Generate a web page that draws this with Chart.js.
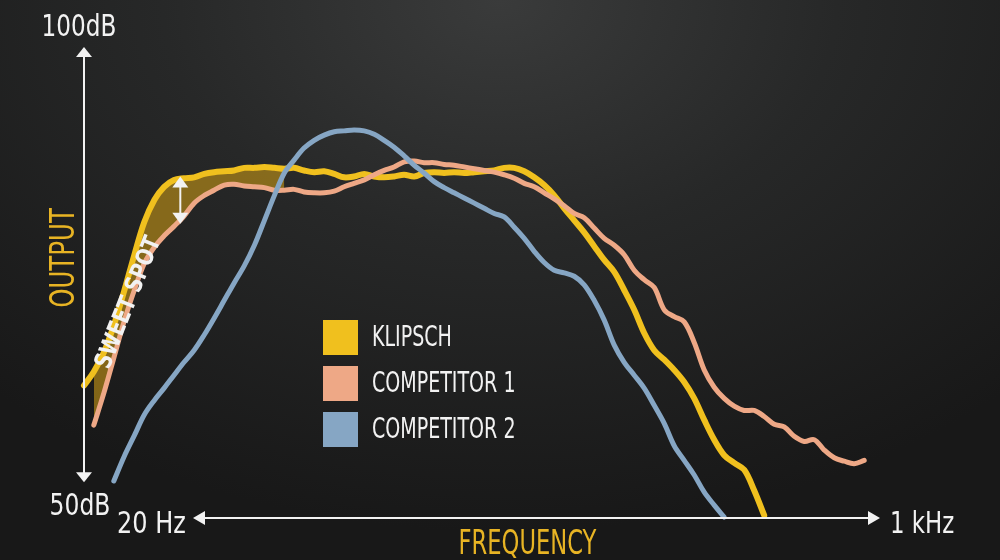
<!DOCTYPE html>
<html>
<head>
<meta charset="utf-8">
<title>Klipsch frequency response</title>
<script src="https://cdn.jsdelivr.net/npm/chart.js@4.4.1/dist/chart.umd.min.js"></script>
<style>
  html, body { margin: 0; padding: 0; }
  body {
    width: 1000px; height: 560px; overflow: hidden;
    background: radial-gradient(ellipse 75% 95% at 50% 0%, #3a3b3b 0%, #272828 45%, #181818 100%);
  }
  #wrap { position: relative; width: 1000px; height: 560px; }
</style>
</head>
<body>
<div id="wrap"><canvas id="myChart" width="1000" height="560"></canvas></div>
<script>
// frequency (Hz, log axis) shared by all three curves
const freqHz = [
  20.0, 21.0, 22.1, 23.2, 24.4, 25.7, 27.0, 28.4, 29.8, 31.3,
  32.9, 34.6, 36.4, 38.2, 40.2, 42.2, 44.4, 46.7, 49.1, 51.6,
  54.2, 56.9, 59.8, 62.9, 66.1, 69.5, 73.0, 76.7, 80.7, 84.8,
  89.1, 93.6, 98.4, 103.5, 108.7, 114.3, 120.1, 126.2, 132.7, 139.5,
  146.6, 154.1, 161.9, 170.2, 178.9, 188.0, 197.6, 207.7, 218.3, 229.4,
  241.1, 253.4, 266.4, 280.0, 294.2, 309.3, 325.0, 341.6, 359.1, 377.4,
  396.6, 416.9, 438.2, 460.5, 484.0, 508.7, 534.7, 562.0, 590.7, 620.8,
  652.5, 685.8, 720.8, 757.6, 796.3, 836.9, 879.6, 924.5, 971.7
];

// output in dB
const klipsch = [
  61.0, 62.6, 64.9, 68.0, 71.9, 76.2, 80.0, 82.6, 84.1, 84.9,
  85.1, 85.2, 85.6, 85.8, 85.9, 86.0, 86.3, 86.3, 86.4, 86.3,
  86.2, 86.3, 86.0, 85.8, 85.9, 85.6, 85.2, 85.3, 85.6, 85.3,
  85.2, 85.3, 85.5, 85.3, 85.7, 85.8, 85.7, 85.8, 85.7, 85.8,
  85.9, 86.0, 86.3, 86.3, 85.9, 85.2, 84.3, 83.1, 81.6, 80.2,
  78.8, 77.2, 75.6, 74.2, 72.1, 69.8, 67.1, 65.1, 64.0, 62.8,
  61.4, 59.5, 57.0, 54.7, 52.9, 52.0, 51.2, 48.8, 45.9, null,
  null, null, null, null, null, null, null, null, null
];
const competitor1 = [
  null, 56.4, 60.2, 64.2, 68.4, 72.1, 75.2, 77.1, 78.4, 79.5,
  80.7, 82.2, 83.1, 83.7, 84.3, 84.4, 84.2, 84.1, 84.0, 83.7,
  83.7, 83.8, 83.5, 83.4, 83.4, 83.6, 84.1, 84.5, 84.9, 85.5,
  86.0, 86.4, 87.0, 87.1, 86.9, 86.9, 86.7, 86.6, 86.4, 86.2,
  86.0, 85.8, 85.5, 85.1, 84.5, 84.1, 83.4, 82.7, 81.9, 81.0,
  80.5, 79.3, 78.1, 77.3, 76.2, 74.4, 73.3, 72.4, 69.8, 69.0,
  68.4, 66.0, 62.8, 60.8, 59.5, 58.6, 58.1, 58.1, 57.4, 56.5,
  56.2, 55.1, 54.5, 54.7, 53.5, 52.6, 52.2, 51.9, 52.3
];
const competitor2 = [
  null, null, null, 49.9, 52.7, 55.2, 57.6, 59.3, 60.7, 62.2,
  63.7, 65.1, 66.9, 68.8, 70.9, 72.9, 74.9, 77.3, 80.2, 83.1,
  85.7, 87.2, 88.6, 89.5, 90.1, 90.5, 90.6, 90.7, 90.6, 90.2,
  89.5, 88.7, 87.7, 86.6, 85.7, 84.7, 84.0, 83.4, 82.8, 82.2,
  81.6, 81.0, 80.6, 79.4, 78.1, 76.6, 75.3, 74.4, 74.1, 73.7,
  72.7, 70.9, 68.6, 65.7, 63.7, 62.2, 60.7, 58.7, 56.6, 54.0,
  52.3, 50.6, 48.6, 47.1, 45.7, null, null, null, null, null,
  null, null, null, null, null, null, null, null, null
];
const sweetSpotEndHz = 55;

const seriesNames = ['KLIPSCH', 'COMPETITOR 1', 'COMPETITOR 2'];
const seriesColors = ['#f0c01e', '#eea886', '#86a6c4'];
const yTickLabels = ['50dB', '100dB'];
const xTickLabels = ['20 Hz', '1 kHz'];
const xTitle = 'FREQUENCY';
const yTitle = 'OUTPUT';

const FONT = "'Liberation Sans Narrow', 'DejaVu Sans Condensed', 'DejaVu Sans', sans-serif";
const WHITE = '#f2f2f2';
const GOLD = '#e8b424';

function pts(vals) {
  return freqHz.map((f, i) => ({ x: f, y: vals[i] }));
}

function arrowHead(ctx, x, y, dx, dy, len, half) {
  // tip at (x,y), pointing along (dx,dy)
  ctx.beginPath();
  ctx.moveTo(x, y);
  ctx.lineTo(x - dx * len - dy * half, y - dy * len + dx * half);
  ctx.lineTo(x - dx * len + dy * half, y - dy * len - dx * half);
  ctx.closePath();
  ctx.fill();
}

// text squeezed horizontally, the original uses a condensed face
function narrowText(ctx, s, x, y, align, sx) {
  ctx.save();
  ctx.translate(x, y);
  ctx.scale(sx, 1);
  ctx.textAlign = align;
  ctx.fillText(s, 0, 0);
  ctx.restore();
}

const decor = {
  id: 'decor',
  afterDatasetsDraw(chart) {
    const { ctx, chartArea: a, scales: { x, y } } = chart;
    ctx.save();
    ctx.strokeStyle = WHITE;
    ctx.fillStyle = WHITE;
    ctx.lineWidth = 2;

    // y axis with arrows
    const yTop = y.getPixelForValue(100) - 3;
    const yBot = y.getPixelForValue(50) + 2;
    ctx.beginPath();
    ctx.moveTo(a.left, yTop + 6);
    ctx.lineTo(a.left, yBot - 6);
    ctx.stroke();
    arrowHead(ctx, a.left, yTop, 0, -1, 10, 8);
    arrowHead(ctx, a.left, yBot, 0, 1, 10, 8);

    // x axis with arrows
    const xl = a.left + 109, xr = a.right + 10, yx = a.bottom;
    ctx.beginPath();
    ctx.moveTo(xl + 6, yx);
    ctx.lineTo(xr - 6, yx);
    ctx.stroke();
    arrowHead(ctx, xl, yx, -1, 0, 12, 7);
    arrowHead(ctx, xr, yx, 1, 0, 12, 7);

    // tick labels
    ctx.font = '31px ' + FONT;
    ctx.textBaseline = 'alphabetic';
    narrowText(ctx, yTickLabels[1], a.left - 5, yTop - 11, 'center', 0.83);
    narrowText(ctx, yTickLabels[0], a.left - 4, yBot + 33, 'center', 0.84);
    narrowText(ctx, xTickLabels[0], a.left + 33, yx + 15, 'left', 0.86);
    narrowText(ctx, xTickLabels[1], xr + 10, yx + 15, 'left', 0.82);

    // axis titles
    ctx.fillStyle = GOLD;
    ctx.font = '34px ' + FONT;
    narrowText(ctx, xTitle, (xl + xr) / 2 - 9, yx + 36, 'center', 0.74);
    ctx.save();
    ctx.translate(a.left - 10, 258);
    ctx.rotate(-Math.PI / 2);
    narrowText(ctx, yTitle, 0, 0, 'center', 0.8);
    ctx.restore();

    // sweet spot double arrow
    ctx.fillStyle = WHITE;
    const ax = x.getPixelForValue(32.3);
    const a1 = y.getPixelForValue(85.3), a2 = y.getPixelForValue(79.8);
    ctx.beginPath();
    ctx.moveTo(ax, a1 + 6);
    ctx.lineTo(ax, a2 - 6);
    ctx.stroke();
    arrowHead(ctx, ax, a1, 0, -1, 11, 8);
    arrowHead(ctx, ax, a2, 0, 1, 11, 8);

    // sweet spot label along the rising edge
    ctx.save();
    ctx.translate(x.getPixelForValue(25.0), y.getPixelForValue(70.6));
    ctx.rotate(Math.atan2(-133, 53));
    ctx.font = 'bold 24px ' + FONT;
    ctx.textBaseline = 'middle';
    const w = ctx.measureText('SWEET SPOT').width;
    narrowText(ctx, 'SWEET SPOT', 0, 0, 'center', 140 / w);
    ctx.restore();

    // legend
    ctx.font = '29px ' + FONT;
    ctx.textBaseline = 'middle';
    const lx = 323, ly = [337, 383, 429];
    seriesNames.forEach((n, i) => {
      ctx.fillStyle = seriesColors[i];
      ctx.fillRect(lx, ly[i] - 17, 35, 35);
      ctx.fillStyle = WHITE;
      narrowText(ctx, n, lx + 49, ly[i] + 1, 'left', 0.73);
    });
    ctx.restore();
  }
};

const ctx = document.getElementById('myChart');
const myChart = new Chart(ctx, {
  type: 'line',
  data: {
    datasets: [
      {
        label: seriesNames[0],
        data: pts(klipsch),
        borderColor: seriesColors[0],
        borderWidth: 6,
        order: 2
      },
      {
        label: seriesNames[1],
        data: pts(competitor1),
        borderColor: seriesColors[1],
        borderWidth: 5,
        order: 1
      },
      {
        label: seriesNames[2],
        data: pts(competitor2),
        borderColor: seriesColors[2],
        borderWidth: 5,
        order: 0
      },
      {
        label: 'sweet spot',
        data: pts(klipsch.map((v, i) => (freqHz[i] <= sweetSpotEndHz ? v : null))),
        borderWidth: 0,
        borderColor: 'rgba(0,0,0,0)',
        backgroundColor: 'rgba(196,148,22,0.62)',
        fill: { target: 1, above: 'rgba(196,148,22,0.62)', below: 'rgba(0,0,0,0)' },
        order: 3
      }
    ]
  },
  options: {
    responsive: false,
    animation: false,
    devicePixelRatio: 1,
    layout: { padding: { left: 84, right: 130, top: 50, bottom: 42 } },
    elements: {
      point: { radius: 0 },
      line: { tension: 0.35, borderCapStyle: 'round', borderJoinStyle: 'round' }
    },
    datasets: { line: { clip: 8, spanGaps: false } },
    scales: {
      x: { type: 'logarithmic', min: 20, max: 1000, display: false },
      y: { type: 'linear', min: 45.6, max: 100, display: false }
    },
    plugins: {
      legend: { display: false },
      tooltip: { enabled: false }
    }
  },
  plugins: [decor]
});
</script>
</body>
</html>
